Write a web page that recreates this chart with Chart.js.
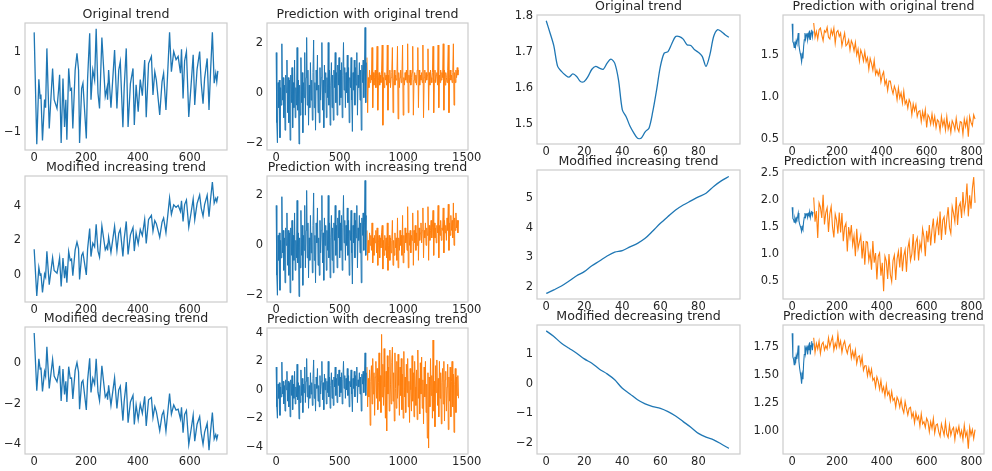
<!DOCTYPE html>
<html>
<head>
<meta charset="utf-8">
<script src="https://cdn.jsdelivr.net/npm/chart.js@4.4.1/dist/chart.umd.min.js"></script>
<style>
  html, body { margin: 0; padding: 0; background: #fff; }
  body { width: 992px; height: 471px; position: relative; overflow: hidden; }
  canvas { position: absolute; }
</style>
</head>
<body>
<script>
// ---- column 1: training series (x positions of the turning points are shared)
const origX = [0,10,18,23,26,32,40,44,49,58,71,77,88,94,98,104,111,117,122,126,
  133,139,144,149,158,165,171,175,183,188,201,206,214,219,226,233,239,246,252,261,
  274,281,283,287,296,310,319,326,332,342,347,355,362,371,381,386,393,401,409,417,
  426,432,441,452,458,465,471,484,493,499,508,522,529,538,547,555,564,568,574,580,
  587,596,605,613,619,628,638,644,651,657,667,674,680,687,694,700,704,708];
const origTrend = [1.48,-1.31,0.31,-0.17,-0.07,-1.22,-0.2,-0.4,1.08,-0.92,
  0.58,-0.2,-0.42,0.04,0.42,-1.28,0.33,-0.88,-0.2,-1.2,
  0.58,0.04,0.08,-0.92,0.54,0.96,0.54,-1.28,0.08,0.21,
  -1.17,0.33,1.46,-0.2,0.54,0.29,1.57,-0.04,-0.42,1.35,
  -0.12,0.1,-0.2,0.54,-0.4,1.04,-0.42,0.54,0.75,-0.89,
  0.1,1.08,-0.88,0.2,0.58,-0.83,0.17,-0.5,0.3,-0.1,
  0.79,-0.64,0.7,0.88,-0.08,0.5,0.29,-0.58,0.25,0.46,
  -0.46,1.48,0.5,1.0,0.8,0.88,0.46,1.06,-0.17,0.77,
  1.0,-0.63,0.17,0.92,-0.33,0.56,1.0,0.21,-0.3,0.33,
  0.83,-0.46,0.5,1.48,0.21,0.46,0.25,0.52];
const incTrend = [1.48,-1.25,0.41,-0.04,0.08,-1.04,0.03,-0.15,1.36,-0.59,
  0.99,0.24,0.08,0.58,0.98,-0.69,0.96,-0.21,0.50,-0.48,
  1.34,0.83,0.90,-0.07,1.44,1.90,1.52,-0.28,1.12,1.28,
  -0.02,1.50,2.68,1.05,1.83,1.62,2.93,1.36,1.02,2.84,
  1.44,1.70,1.41,2.18,1.29,2.81,1.40,2.40,2.64,1.06,
  2.08,3.10,1.18,2.32,2.75,1.37,2.41,1.79,2.63,2.28,
  3.22,1.82,3.21,3.46,2.53,3.15,2.97,2.18,3.06,3.30,
  2.44,4.46,3.52,4.07,3.92,4.04,3.68,4.30,3.10,4.08,
  4.35,2.77,3.62,4.41,3.20,4.14,4.64,3.88,3.41,4.08,
  4.63,3.38,4.38,5.40,4.17,4.45,4.26,4.56];
const decTrend = [1.48,-1.37,0.21,-0.30,-0.22,-1.40,-0.43,-0.65,0.80,-1.25,
  0.18,-0.64,-0.92,-0.50,-0.14,-1.87,-0.30,-1.55,-0.90,-1.92,
  -0.18,-0.75,-0.74,-1.77,-0.36,0.02,-0.44,-2.28,-0.96,-0.86,
  -2.32,-0.84,0.24,-1.45,-0.75,-1.04,0.21,-1.44,-1.86,-0.14,
  -1.68,-1.50,-1.81,-1.10,-2.09,-0.73,-2.24,-1.32,-1.14,-2.84,
  -1.88,-0.94,-2.94,-1.92,-1.59,-3.03,-2.07,-2.79,-2.03,-2.48,
  -1.64,-3.10,-1.81,-1.70,-2.69,-2.15,-2.40,-3.34,-2.56,-2.38,
  -3.36,-1.50,-2.52,-2.07,-2.32,-2.28,-2.76,-2.18,-3.44,-2.54,
  -2.35,-4.03,-3.28,-2.57,-3.86,-3.02,-2.64,-3.46,-4.01,-3.42,
  -2.97,-4.30,-3.38,-2.44,-3.75,-3.53,-3.76,-3.52];

// ---- column 2: history (step 5 from 0) and predictions (step 5 from 715)
const histStart = 0, histStep = 5;
const predStart = 715, predStep = 5;
const history = [1.6,-1.2,-2.0,0.4,-0.6,0.5,-1.8,0.2,-0.5,1.95,
  -0.3,0.6,-1.0,0.3,-1.5,0.7,0.0,1.3,-0.8,0.6,
  -1.2,0.5,-1.9,0.7,-0.4,1.0,-1.4,0.4,-0.6,1.3,
  -1.0,0.2,-0.5,1.8,-0.7,0.5,-2.05,0.3,-0.9,1.4,
  -0.4,0.8,-1.6,0.4,-0.2,1.6,-0.9,0.6,2.2,-0.5,
  0.9,-1.3,0.3,-0.6,1.2,-0.3,0.5,-1.1,0.8,2.1,
  -0.6,0.4,-1.5,0.9,0.1,1.5,-0.8,0.3,-1.2,1.0,
  -0.3,0.6,2.0,-0.7,0.5,-1.4,1.1,0.0,0.8,-1.0,
  0.6,-0.2,2.0,-0.5,0.9,-1.3,0.3,1.2,-0.6,0.7,
  -1.1,0.9,0.2,1.6,-0.4,0.8,-0.9,1.1,0.3,1.4,
  -0.5,0.9,-0.2,1.2,-1.0,0.7,2.0,0.1,1.0,-0.6,
  0.8,0.0,1.5,-0.4,1.0,-1.2,0.6,0.2,1.4,-0.3,
  -1.55,0.8,0.1,1.3,-0.5,1.0,0.3,1.6,-0.9,0.7,
  0.2,1.2,-0.3,0.9,-1.5,1.1,0.4,1.3,-0.2,0.9,
  2.6,-0.4,1.2];
const predOrig = [1.4,-0.8,0.6,0.2,0.9,0.4,0.7,0.5,
  1.8,-0.6,0.8,0.3,0.6,0.9,0.2,0.7,
  1.85,-0.7,0.5,0.8,0.3,0.7,0.4,0.9,
  1.9,-1.3,0.6,0.2,0.8,0.5,0.7,0.3,
  1.9,-0.7,0.7,0.4,0.9,0.2,0.6,0.8,
  1.8,-0.8,0.5,0.9,0.3,0.7,0.5,0.6,
  1.85,-1.05,0.8,0.2,0.6,0.9,0.4,0.7,
  1.9,-0.9,0.6,0.3,0.8,0.5,0.9,0.4,
  1.95,-0.8,0.7,0.4,0.9,0.3,0.6,0.8,
  1.85,-0.9,0.5,0.8,0.4,0.7,0.3,0.9,
  1.8,-0.6,0.9,0.3,0.7,0.5,0.8,0.4,
  1.9,-1.0,0.6,0.9,0.4,0.8,0.5,0.7,
  1.75,-0.7,0.8,0.3,0.9,0.6,0.4,0.8,
  1.85,-0.8,0.5,0.9,0.4,0.7,0.8,0.3,
  1.9,-0.6,0.7,0.4,0.9,0.5,0.8,0.6,
  1.95,-0.7,0.9,0.3,0.8,0.6,0.4,0.9,
  1.9,-0.8,0.6,0.9,0.5,0.7,0.4,0.8,
  1.95,-0.5,0.8,0.4,0.9,0.6,1.0,0.7,
  0.9];
const predInc = [0.6,-0.6,0.2,-0.3,0.5,0.0,0.4,-0.2,
  0.9,-0.7,0.3,-0.4,0.4,0.1,0.6,-0.3,
  0.7,-0.8,0.1,0.4,-0.5,0.3,-0.1,0.5,
  0.8,-0.95,0.2,-0.4,0.4,-0.2,0.3,-0.5,
  0.9,-1.0,0.0,0.4,-0.6,0.3,-0.3,0.2,
  1.0,-0.8,0.2,-0.4,0.5,-0.1,0.3,-0.6,
  1.1,-0.9,0.3,-0.2,0.6,0.0,0.4,-0.4,
  1.2,-0.7,0.4,-0.3,0.7,0.1,0.5,-0.2,
  1.55,-0.9,0.5,0.0,0.6,-0.3,0.4,0.2,
  1.3,-0.8,0.6,0.1,0.8,-0.2,0.5,0.0,
  1.4,-0.6,0.7,0.2,0.5,0.9,0.1,0.6,
  1.5,-0.5,0.6,0.3,0.9,0.0,0.7,0.4,
  1.55,-0.6,0.8,0.2,0.6,1.0,0.3,0.7,
  1.4,-0.4,0.9,0.3,0.7,0.1,0.8,0.5,
  1.6,-0.5,0.8,0.4,1.0,0.2,0.7,0.6,
  1.5,-0.3,1.0,0.5,0.8,0.2,1.1,0.6,
  1.65,-0.2,0.9,0.4,1.2,0.6,1.0,0.3,
  1.7,0.0,1.1,0.6,1.3,0.7,1.0,0.5,
  1.0];
const predDec = [1.6,-1.2,0.8,-0.5,1.4,-2.5,0.6,1.7,
  -1.0,2.2,-0.3,1.2,-1.8,0.9,2.0,-0.6,
  1.5,-1.4,0.5,2.6,-0.8,1.0,-1.6,3.9,
  -0.5,1.8,-1.1,2.9,0.2,-2.0,1.3,-2.9,
  2.4,-0.3,1.6,-1.5,2.8,0.4,-1.0,1.9,
  3.0,-0.8,1.2,-2.2,2.6,0.1,-1.3,2.0,
  -0.6,2.5,0.3,-1.8,1.6,-0.4,2.2,-1.4,
  1.1,-2.0,2.7,-0.5,0.9,-1.6,1.8,-0.2,
  2.2,-1.2,0.6,-2.3,1.5,0.0,-1.5,2.4,
  -0.8,1.2,-1.9,2.0,0.2,-1.1,1.4,-2.1,
  2.8,-0.6,0.8,-1.7,1.9,-0.3,2.3,-1.3,
  0.7,-2.4,1.6,-0.5,2.0,-1.6,0.4,-3.4,
  1.2,-4.1,0.9,-1.2,2.2,-0.4,1.0,-2.0,
  3.5,-1.5,0.6,-2.6,1.7,-0.2,2.1,-1.1,
  0.8,-1.9,2.0,-0.6,1.2,-2.4,0.5,1.5,
  -1.0,2.0,-2.2,0.7,1.3,-1.5,0.2,1.8,
  -2.8,0.9,-0.8,1.6,-1.9,0.6,2.0,-1.2,
  1.1,-3.0,0.4,1.5,-1.6,0.9,-0.4,1.0,
  -0.6];

// ---- column 3: smoothed trends
const smoothOrig = [1.786,1.752,1.716,1.659,1.645,1.635,1.629,1.638,1.631,1.617,
  1.617,1.631,1.651,1.659,1.654,1.651,1.668,1.679,1.668,1.621,
  1.538,1.519,1.493,1.474,1.459,1.460,1.477,1.487,1.533,1.593,
  1.659,1.696,1.700,1.722,1.742,1.742,1.735,1.719,1.717,1.705,
  1.698,1.687,1.659,1.691,1.742,1.761,1.756,1.747,1.740]; // every 2
const smoothInc = [1.77,1.89,2.02,2.19,2.37,2.51,2.71,2.87,3.04,3.17,3.22,3.35,3.47,
  3.64,3.89,4.15,4.38,4.60,4.77,4.91,5.05,5.17,5.40,5.59,5.74]; // every 4
const smoothDec = [1.80,1.61,1.38,1.21,1.04,0.85,0.70,0.50,0.34,0.14,-0.15,-0.34,-0.54,
  -0.68,-0.77,-0.83,-0.94,-1.09,-1.28,-1.47,-1.68,-1.81,-1.90,-2.04,-2.19]; // every 4

// ---- column 4: recent data (every 3 from 0) and forecasts (every 6 from 96)
const recent = [1.87,1.66,1.64,1.59,1.66,1.60,1.67,1.64,1.69,1.76,
  1.62,1.56,1.52,1.48,1.42,1.50,1.46,1.60,1.68,1.76,
  1.69,1.74,1.76,1.68,1.75,1.72,1.79,1.68,1.76,1.80,1.72,1.78];
const fcOrig = [1.88,1.71,1.78,1.69,1.80,1.82,1.74,1.67,1.79,1.77,
  1.83,1.71,1.69,1.80,1.74,1.82,1.64,1.77,1.79,1.72,
  1.76,1.61,1.69,1.76,1.61,1.63,1.68,1.56,1.67,1.63,
  1.55,1.65,1.50,1.57,1.43,1.56,1.51,1.43,1.54,1.42,
  1.47,1.33,1.46,1.40,1.32,1.44,1.27,1.32,1.26,1.32,
  1.18,1.26,1.30,1.15,1.20,1.08,1.19,1.19,1.10,1.04,
  1.13,1.08,0.97,1.11,0.99,1.05,0.93,1.07,0.92,0.96,
  0.87,0.97,0.93,0.79,0.92,0.84,0.91,0.77,0.83,0.84,
  0.71,0.83,0.74,0.85,0.64,0.79,0.76,0.68,0.80,0.68,
  0.77,0.64,0.73,0.71,0.60,0.77,0.66,0.73,0.61,0.77,
  0.62,0.69,0.58,0.72,0.68,0.61,0.75,0.63,0.59,0.71,
  0.70,0.56,0.74,0.65,0.74,0.53,0.77,0.70,0.66,0.79,
  0.74];
const fcInc = [2.05,1.60,1.80,1.30,1.95,1.87,1.67,2.10,1.55,1.77,
  1.86,1.41,1.75,1.88,1.50,1.31,1.74,1.63,1.38,1.77,
  1.40,1.76,1.24,1.50,1.57,1.05,1.50,1.31,1.54,1.17,
  1.34,0.96,1.47,1.10,1.22,1.34,0.92,1.24,0.80,1.23,
  1.22,0.88,1.03,0.71,1.24,0.84,1.02,0.53,0.96,1.02,
  0.60,0.84,0.31,0.96,0.87,0.54,1.00,0.62,0.49,0.88,
  0.98,0.52,0.91,1.05,0.75,1.13,0.68,0.97,1.08,0.67,
  1.10,1.24,0.88,1.00,1.37,0.88,1.22,1.30,0.88,1.21,
  1.08,1.47,1.32,0.96,1.43,1.22,1.54,1.16,1.46,1.66,
  1.20,1.49,1.64,1.35,1.79,1.26,1.63,1.69,1.36,1.66,
  1.87,1.49,1.38,1.88,1.76,1.60,2.06,1.54,1.88,1.95,
  1.67,2.15,1.79,1.96,2.31,1.70,2.09,1.84,2.21,2.43,
  1.95];
const fcDec = [1.83,1.70,1.78,1.73,1.80,1.69,1.77,1.79,1.72,1.76,
  1.73,1.83,1.75,1.80,1.84,1.72,1.78,1.74,1.86,1.75,
  1.80,1.70,1.77,1.80,1.73,1.69,1.75,1.77,1.65,1.71,
  1.65,1.72,1.60,1.66,1.67,1.59,1.66,1.54,1.58,1.58,
  1.49,1.56,1.49,1.55,1.45,1.47,1.39,1.48,1.44,1.37,
  1.45,1.35,1.39,1.31,1.41,1.32,1.35,1.27,1.35,1.27,
  1.29,1.21,1.30,1.27,1.21,1.28,1.20,1.16,1.26,1.20,
  1.14,1.20,1.21,1.12,1.16,1.07,1.16,1.10,1.13,1.04,
  1.15,1.06,1.08,1.03,1.11,1.08,0.99,1.08,1.02,1.11,
  0.98,1.05,1.06,0.99,0.95,1.06,1.01,0.96,1.08,0.97,
  0.94,1.05,0.96,1.01,1.03,0.92,1.02,0.98,1.04,0.95,
  1.00,0.92,1.05,0.95,0.99,0.84,1.03,0.96,1.01,0.93,
  1.01];

// ---- tick labels
const ticksLong = [0, 200, 400, 600];
const ticksPred = [0, 500, 1000, 1500];
const ticksShort = [0, 20, 40, 60, 80];
const ticksFc = [0, 200, 400, 600, 800];

const BLUE = '#1f77b4', ORANGE = '#ff7f0e';
const YAXIS_W = 40, XAXIS_H = 22, RIGHT_PAD = 20, TITLE_H = 20;

Chart.defaults.font.family = '"DejaVu Sans", sans-serif';
Chart.defaults.color = '#262626';

// x positions for evenly spaced samples
function seq(start, step, n) {
  const out = [];
  for (let i = 0; i < n; i++) out.push(start + i * step);
  return out;
}

function fmt(v, dec) {
  const s = Math.abs(v).toFixed(dec);
  return (v < 0 ? '\u2212' : '') + s;
}

const frame = {
  id: 'frame',
  afterDraw(chart) {
    const a = chart.chartArea, ctx = chart.ctx;
    ctx.save();
    ctx.strokeStyle = '#cccccc';
    ctx.lineWidth = 1.2;
    ctx.strokeRect(a.left, a.top, a.right - a.left, a.bottom - a.top);
    ctx.restore();
  }
};

function panel(p) {
  const c = document.createElement('canvas');
  const w = p.box[2] - p.box[0] + YAXIS_W + RIGHT_PAD;
  const h = p.box[3] - p.box[1] + TITLE_H + XAXIS_H;
  c.width = w; c.height = h;
  c.style.width = w + 'px'; c.style.height = h + 'px';
  c.style.left = (p.box[0] - YAXIS_W) + 'px';
  c.style.top = (p.box[1] - TITLE_H) + 'px';
  document.body.appendChild(c);

  new Chart(c, {
    type: 'line',
    data: {
      datasets: p.series.map(s => ({
        data: s.x.map((x, i) => ({ x: x, y: s.y[i] })),
        borderColor: s.color,
        borderWidth: s.width || 1.3,
        pointRadius: 0,
        tension: s.tension || 0,
        fill: false
      }))
    },
    options: {
      responsive: false,
      animation: false,
      devicePixelRatio: 1,
      layout: { padding: { left: 0, right: RIGHT_PAD, top: 0, bottom: 0 } },
      plugins: {
        legend: { display: false },
        tooltip: { enabled: false },
        title: {
          display: true, text: p.title, fullSize: false, color: '#262626',
          font: { size: 12.6, weight: 'normal', lineHeight: 1.27 },
          padding: { top: 4, bottom: 0 }
        }
      },
      scales: {
        x: {
          type: 'linear', min: p.xr[0], max: p.xr[1],
          grid: { display: false, drawTicks: false },
          border: { display: false },
          afterBuildTicks: s => { s.ticks = p.xt.map(v => ({ value: v })); },
          afterFit: s => { s.height = XAXIS_H; },
          ticks: { autoSkip: false, maxRotation: 0, padding: 1, font: { size: 11.5 },
            color: '#262626', callback: v => fmt(v, 0) }
        },
        y: {
          type: 'linear', min: p.yr[0], max: p.yr[1],
          grid: { display: false, drawTicks: false },
          border: { display: false },
          afterBuildTicks: s => { s.ticks = p.yt.map(v => ({ value: v })); },
          afterFit: s => { s.width = YAXIS_W; },
          ticks: { autoSkip: false, padding: 4, font: { size: 11.5 },
            color: '#262626', callback: v => fmt(v, p.dec) }
        }
      }
    },
    plugins: [frame]
  });
}

const histX = seq(histStart, histStep, history.length);
const predX = seq(predStart, predStep, predOrig.length);
const recentX = seq(0, 3, recent.length);
const fcX = seq(96, 6, fcOrig.length);

// row 1
panel({ box: [25, 23, 227, 150], title: 'Original trend', xr: [-35.4, 743.4], yr: [-1.457, 1.714],
  xt: ticksLong, yt: [-1, 0, 1], dec: 0,
  series: [{ x: origX, y: origTrend, color: BLUE }] });
panel({ box: [267, 23, 468, 150], title: 'Prediction with original trend', xr: [-72, 1510], yr: [-2.29, 2.78],
  xt: ticksPred, yt: [-2, 0, 2], dec: 0,
  series: [{ x: histX, y: history, color: BLUE, width: 1 }, { x: predX, y: predOrig, color: ORANGE, width: 1 }] });
panel({ box: [537, 15, 740, 144], title: 'Original trend', xr: [-4.85, 101.85], yr: [1.443, 1.802],
  xt: ticksShort, yt: [1.5, 1.6, 1.7, 1.8], dec: 1,
  series: [{ x: seq(0, 2, smoothOrig.length), y: smoothOrig, color: BLUE, tension: 0.3 }] });
panel({ box: [783, 15, 984, 144], title: 'Prediction with original trend', xr: [-41, 856], yr: [0.444, 1.975],
  xt: ticksFc, yt: [0.5, 1.0, 1.5], dec: 1,
  series: [{ x: recentX, y: recent, color: BLUE, width: 1.1 }, { x: fcX, y: fcOrig, color: ORANGE, width: 1.1 }] });

// row 2
panel({ box: [25, 176, 227, 302], title: 'Modified increasing trend', xr: [-35.4, 743.4], yr: [-1.6, 5.75],
  xt: ticksLong, yt: [0, 2, 4], dec: 0,
  series: [{ x: origX, y: incTrend, color: BLUE }] });
panel({ box: [267, 176, 468, 302], title: 'Prediction with increasing trend', xr: [-72, 1510], yr: [-2.27, 2.78],
  xt: ticksPred, yt: [-2, 0, 2], dec: 0,
  series: [{ x: histX, y: history, color: BLUE, width: 1 }, { x: predX, y: predInc, color: ORANGE, width: 1 }] });
panel({ box: [537, 170, 740, 299], title: 'Modified increasing trend', xr: [-4.85, 101.85], yr: [1.58, 5.96],
  xt: ticksShort, yt: [2, 3, 4, 5], dec: 0,
  series: [{ x: seq(0, 4, smoothInc.length), y: smoothInc, color: BLUE, tension: 0.3 }] });
panel({ box: [783, 170, 984, 299], title: 'Prediction with increasing trend', xr: [-41, 856], yr: [0.166, 2.56],
  xt: ticksFc, yt: [0.5, 1.0, 1.5, 2.0, 2.5], dec: 1,
  series: [{ x: recentX, y: recent, color: BLUE, width: 1.1 }, { x: fcX, y: fcInc, color: ORANGE, width: 1.1 }] });

// row 3
panel({ box: [25, 327, 227, 454], title: 'Modified decreasing trend', xr: [-35.4, 743.4], yr: [-4.49, 1.78],
  xt: ticksLong, yt: [-4, -2, 0], dec: 0,
  series: [{ x: origX, y: decTrend, color: BLUE }] });
panel({ box: [267, 328, 468, 454], title: 'Prediction with decreasing trend', xr: [-72, 1510], yr: [-4.52, 4.35],
  xt: ticksPred, yt: [-4, -2, 0, 2, 4], dec: 0,
  series: [{ x: histX, y: history, color: BLUE, width: 1 }, { x: predX, y: predDec, color: ORANGE, width: 1 }] });
panel({ box: [537, 325, 740, 454], title: 'Modified decreasing trend', xr: [-4.85, 101.85], yr: [-2.38, 2.0],
  xt: ticksShort, yt: [-2, -1, 0, 1], dec: 0,
  series: [{ x: seq(0, 4, smoothDec.length), y: smoothDec, color: BLUE, tension: 0.3 }] });
panel({ box: [783, 325, 984, 454], title: 'Prediction with decreasing trend', xr: [-41, 856], yr: [0.792, 1.944],
  xt: ticksFc, yt: [1.00, 1.25, 1.50, 1.75], dec: 2,
  series: [{ x: recentX, y: recent, color: BLUE, width: 1.1 }, { x: fcX, y: fcDec, color: ORANGE, width: 1.1 }] });
</script>
</body>
</html>
